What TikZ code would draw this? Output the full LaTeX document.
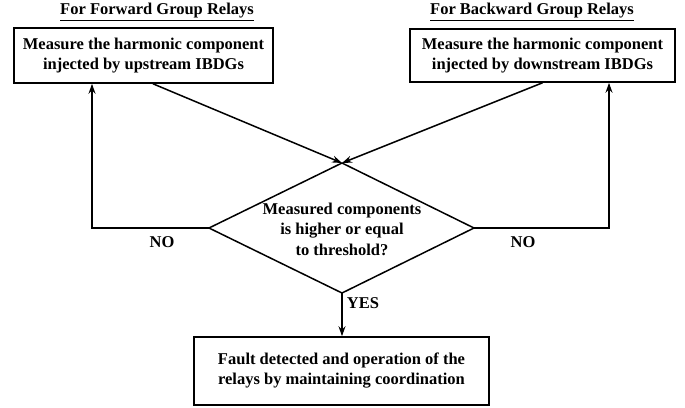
\documentclass[tikz,border=0pt]{standalone}
\usepackage{fontspec}
\setmainfont{Liberation Serif}
\usetikzlibrary{arrows.meta}
\begin{document}
\begin{tikzpicture}[x=1pt,y=-1pt,
  box/.style={draw, line width=1.6pt, align=center, font=\fontsize{16.5}{20}\selectfont\bfseries, inner sep=0pt},
  lbl/.style={font=\fontsize{16.5}{20.5}\selectfont\bfseries, inner sep=0pt, align=center},
  conn/.style={line width=1.5pt},
  arr/.style={conn, -{Stealth[length=10pt,width=7pt]}}]
\useasboundingbox (0,0) rectangle (685,407);
\node[lbl] (t1) at (157,12) {\underline{For Forward Group Relays}};
\node[lbl] (t2) at (532,12) {\underline{For Backward Group Relays}};
\node[box, minimum width=259pt, minimum height=55pt] (b1) at (143.5,55.5) {Measure the harmonic component\\injected by upstream IBDGs};
\node[box, minimum width=265pt, minimum height=53pt] (b2) at (542.5,55.5) {Measure the harmonic component\\injected by downstream IBDGs};
\node[box, minimum width=295pt, minimum height=68pt] (b3) at (341.5,371) {Fault detected and operation of the\\relays by maintaining coordination};
\coordinate (dT) at (342,163);
\coordinate (dL) at (209,228);
\coordinate (dR) at (474,228);
\coordinate (dB) at (342,293);
\draw[conn] (dT) -- (dR) -- (dB) -- (dL) -- cycle;
\node[lbl] (dtext) at (342,229) {Measured components\\is higher or equal\\to threshold?};
\coordinate (cL) at (92,228);
\coordinate (cR) at (609,228);
\draw[arr] (dL) -- (cL) -- (b1.south -| cL);
\draw[arr] (dR) -- (cR) -- (b2.south -| cR);
\draw[arr] ([xshift=9.5pt]b1.south) -- (dT);
\draw[arr] (b2.south) -- (dT);
\draw[arr] (dB) -- (b3.north -| dB);
\node[lbl] (no1) at (162,242) {NO};
\node[lbl] (no2) at (523,242) {NO};
\node[lbl] (yes) at (363,303) {YES};
\end{tikzpicture}
\end{document}
